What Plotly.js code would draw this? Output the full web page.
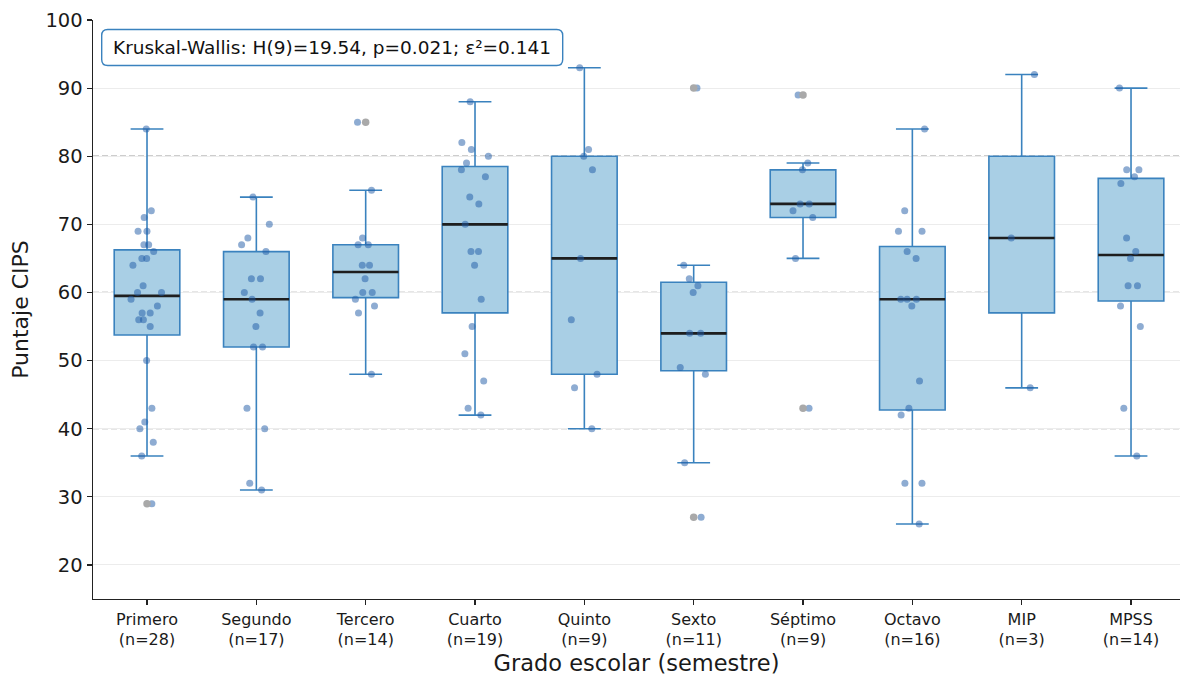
<!DOCTYPE html>
<html><head><meta charset="utf-8">
<script src="https://cdn.plot.ly/plotly-3.0.1.min.js"></script>
<style>html,body{margin:0;padding:0;background:#fff}#chart{width:1180px;height:680px}</style>
</head><body><div id="chart"></div>
<script>
const categories = ['Primero','Segundo','Tercero','Cuarto','Quinto','Sexto','Séptimo','Octavo','MIP','MPSS'];
const primero = [84,72,71,69,69,67,67,66,65,65,64,61,60,60,59,58,57,57,56,56,55,50,43,41,40,38,36,29];
const segundo = [74,70,68,67,66,62,62,60,59,57,55,52,52,43,40,32,31];
const tercero = [85,75,68,67,67,64,64,62,60,60,59,58,57,48];
const cuarto = [88,82,81,80,79,78,77,74,73,70,66,66,64,59,55,51,47,43,42];
const quinto = [93,81,80,78,65,56,48,46,40];
const sexto = [90,64,62,61,60,54,54,49,48,35,27];
const septimo = [89,79,78,73,73,72,71,65,43];
const octavo = [84,72,69,69,66,65,59,59,59,58,47,43,42,32,32,26];
const mip = [92,68,46];
const mpss = [90,78,78,77,76,68,66,65,61,61,58,55,43,36];
const groups = [primero, segundo, tercero, cuarto, quinto, sexto, septimo, octavo, mip, mpss];
const yTicks = [20,30,40,50,60,70,80,90,100];
const refLines = [40,60,80];
const statText = 'Kruskal-Wallis: H(9)=19.54, p=0.021; ε²=0.141';
const xTitle = 'Grado escolar (semestre)';
const yTitle = 'Puntaje CIPS';

const BOX_FILL = '#a9cfe5', BOX_LINE = '#3a82be';
const idx = categories.map((_, i) => i);

function quantile(s, p) {
  const pos = (s.length - 1) * p, lo = Math.floor(pos), hi = Math.ceil(pos);
  return s[lo] + (s[hi] - s[lo]) * (pos - lo);
}
const stats = groups.map(g => {
  const s = [...g].sort((a, b) => a - b);
  const q1 = quantile(s, 0.25), med = quantile(s, 0.5), q3 = quantile(s, 0.75);
  const iqr = q3 - q1;
  const inside = s.filter(v => v >= q1 - 1.5 * iqr && v <= q3 + 1.5 * iqr);
  const lf = inside[0], uf = inside[inside.length - 1];
  return {q1, med, q3, lf, uf, out: s.filter(v => v < lf || v > uf)};
});

const traces = [];
traces.push({
  type: 'box', orientation: 'v', x: idx,
  q1: stats.map(s => s.q1), median: stats.map(s => s.med), q3: stats.map(s => s.q3),
  lowerfence: stats.map(s => s.lf), upperfence: stats.map(s => s.uf),
  width: 0.6, whiskerwidth: 0.5, fillcolor: BOX_FILL,
  line: {color: BOX_LINE, width: 1.6}, boxpoints: false, hoverinfo: 'skip'
});
traces.push({
  type: 'box', orientation: 'v', x: idx,
  q1: stats.map(s => s.med), median: stats.map(s => s.med), q3: stats.map(s => s.med),
  lowerfence: stats.map(s => s.med), upperfence: stats.map(s => s.med),
  width: 0.6, whiskerwidth: 0, fillcolor: 'rgba(0,0,0,0)',
  line: {color: '#1e1e1e', width: 2.6}, boxpoints: false, hoverinfo: 'skip'
});
groups.forEach((g, i) => {
  traces.push({
    type: 'box', y: g, x0: i, width: 0.6, boxpoints: 'all', jitter: 0.5, pointpos: 0,
    fillcolor: 'rgba(0,0,0,0)', line: {color: 'rgba(0,0,0,0)', width: 0},
    marker: {color: 'rgba(30,90,165,0.5)', size: 7}, hoverinfo: 'y'
  });
});
const ox = [], oy = [];
stats.forEach((s, i) => s.out.forEach(v => { ox.push(i); oy.push(v); }));
traces.push({type: 'scatter', mode: 'markers', x: ox, y: oy,
  marker: {color: '#a9a9a9', size: 7.5}, hoverinfo: 'y'});

const ticktext = categories.map((c, i) => c + '<br>(n=' + groups[i].length + ')');

const bx0 = 8.7, bx1 = 469.7, by0 = -9.5, by1 = -45.5, r = 6;
const rr = `M ${bx0+r},${by0} L ${bx1-r},${by0} Q ${bx1},${by0} ${bx1},${by0-r} L ${bx1},${by1+r} Q ${bx1},${by1} ${bx1-r},${by1} L ${bx0+r},${by1} Q ${bx0},${by1} ${bx0},${by1+r} L ${bx0},${by0-r} Q ${bx0},${by0} ${bx0+r},${by0} Z`;

const shapes = refLines.map(v => ({type: 'line', xref: 'paper', x0: 0, x1: 1, yref: 'y', y0: v, y1: v,
  line: {color: '#9c9c9c', width: 1.3, dash: '6px,3px'}, layer: 'between'}));
shapes.push({type: 'path', xref: 'paper', yref: 'paper', xsizemode: 'pixel', ysizemode: 'pixel',
  xanchor: 0, yanchor: 1, path: rr, fillcolor: '#ffffff', line: {color: BOX_LINE, width: 1.4}, layer: 'above'});

const layout = {
  width: 1180, height: 680,
  margin: {l: 93, r: 0, t: 19.5, b: 81},
  paper_bgcolor: '#fff', plot_bgcolor: '#fff',
  font: {family: 'DejaVu Sans', color: '#1a1a1a'},
  showlegend: false, boxmode: 'overlay',
  xaxis: {
    range: [-0.494, 9.448], tickmode: 'array', tickvals: idx, ticktext: ticktext,
    tickfont: {size: 16}, ticks: 'outside', ticklen: 5, tickwidth: 1.2, tickcolor: '#222',
    showline: true, linecolor: '#222', linewidth: 1.4, showgrid: false, zeroline: false,
    title: {text: xTitle, font: {size: 22.5}, standoff: 7}
  },
  yaxis: {
    range: [15, 100], tickmode: 'array', tickvals: yTicks,
    tickfont: {size: 19.5}, ticks: 'outside', ticklen: 5, tickwidth: 1.2, tickcolor: '#222',
    showline: true, linecolor: '#222', linewidth: 1.4, showgrid: true, gridcolor: '#ececec', gridwidth: 1,
    zeroline: false,
    title: {text: yTitle, font: {size: 22}, standoff: 10}
  },
  shapes: shapes,
  annotations: [{xref: 'paper', yref: 'paper', x: 0, y: 1, xanchor: 'center', yanchor: 'middle',
    xshift: (bx0 + bx1) / 2, yshift: (by0 + by1) / 2, text: statText, showarrow: false,
    font: {size: 18.5, color: '#111'}}]
};
Plotly.newPlot('chart', traces, layout, {displayModeBar: false, staticPlot: true});
</script></body></html>
